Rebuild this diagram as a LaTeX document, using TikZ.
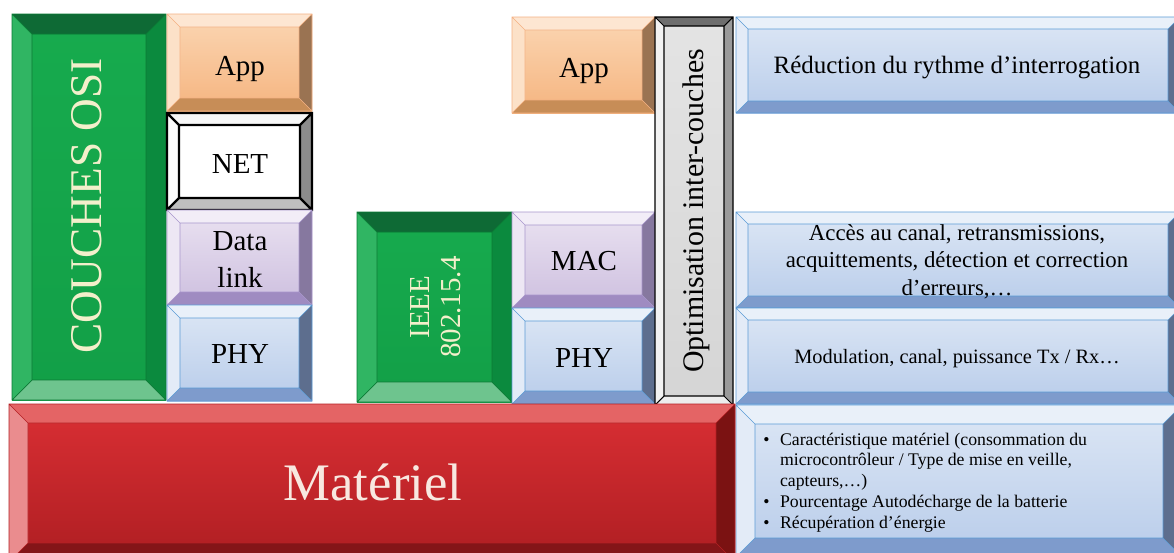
\documentclass[tikz,border=0pt]{standalone}
\usepackage{fontspec}
\setmainfont{Liberation Serif}

% green
\definecolor{grMa}{HTML}{17AB4E}\definecolor{grMb}{HTML}{129F47}
\definecolor{grT}{HTML}{0E6A35}\definecolor{grL}{HTML}{30B563}
\definecolor{grR}{HTML}{0B8A3E}\definecolor{grB}{HTML}{6EC48E}
\definecolor{grD}{HTML}{0B7A35}
% orange
\definecolor{orMa}{HTML}{FBD6B3}\definecolor{orMb}{HTML}{F5B47F}
\definecolor{orT}{HTML}{FDE6D2}\definecolor{orL}{HTML}{FCE1C8}
\definecolor{orR}{HTML}{9A7352}\definecolor{orB}{HTML}{C78D57}
\definecolor{orD}{HTML}{F4B183}
% purple
\definecolor{puMa}{HTML}{EAE2F1}\definecolor{puMb}{HTML}{CDBFDF}
\definecolor{puT}{HTML}{F2EDF7}\definecolor{puL}{HTML}{EDE7F4}
\definecolor{puR}{HTML}{86789F}\definecolor{puB}{HTML}{9F8BC1}
\definecolor{puD}{HTML}{A896CC}
% blue
\definecolor{blMa}{HTML}{DDE7F5}\definecolor{blMb}{HTML}{B8CCEA}
\definecolor{blT}{HTML}{E9F0F9}\definecolor{blL}{HTML}{E3EBF7}
\definecolor{blR}{HTML}{5D6E8E}\definecolor{blB}{HTML}{7E9BCC}
\definecolor{blD}{HTML}{5B9BD5}
% white (NET)
\definecolor{wtMa}{HTML}{FFFFFF}\definecolor{wtMb}{HTML}{FFFFFF}
\definecolor{wtT}{HTML}{F7F7F7}\definecolor{wtL}{HTML}{FBFBFB}
\definecolor{wtR}{HTML}{8C8C8C}\definecolor{wtB}{HTML}{BFBFBF}
% grey (optimisation)
\definecolor{gyMa}{HTML}{E4E4E4}\definecolor{gyMb}{HTML}{D5D5D5}
\definecolor{gyT}{HTML}{6E6E6E}\definecolor{gyL}{HTML}{F2F2F2}
\definecolor{gyR}{HTML}{9A9A9A}\definecolor{gyB}{HTML}{EDEDED}
% red
\definecolor{rdMa}{HTML}{DA2F34}\definecolor{rdMb}{HTML}{AE1E22}
\definecolor{rdT}{HTML}{E46465}\definecolor{rdL}{HTML}{EA8C8E}
\definecolor{rdR}{HTML}{7B1212}\definecolor{rdB}{HTML}{841518}
\definecolor{rdD}{HTML}{B42024}
% text
\definecolor{cream}{HTML}{F3EFCB}
\definecolor{pinkw}{HTML}{F8E8E0}

% bevelled box: x1, y1, x2, y2 (pixels, y down), bevel, colour prefix
\newcommand{\bevbox}[6]{%
  \shade[top color=#6Ma,bottom color=#6Mb] (#1,#2) rectangle (#3,#4);
  \fill[#6T] (#1,#2) -- (#3,#2) -- ({#3-#5},{#2+#5}) -- ({#1+#5},{#2+#5}) -- cycle;
  \fill[#6L] (#1,#2) -- ({#1+#5},{#2+#5}) -- ({#1+#5},{#4-#5}) -- (#1,#4) -- cycle;
  \fill[#6R] (#3,#2) -- (#3,#4) -- ({#3-#5},{#4-#5}) -- ({#3-#5},{#2+#5}) -- cycle;
  \fill[#6B] (#1,#4) -- (#3,#4) -- ({#3-#5},{#4-#5}) -- ({#1+#5},{#4-#5}) -- cycle;
  \draw[#6line] (#1,#2) rectangle (#3,#4) ({#1+#5},{#2+#5}) rectangle ({#3-#5},{#4-#5})
    (#1,#2) -- ({#1+#5},{#2+#5}) (#3,#2) -- ({#3-#5},{#2+#5})
    (#1,#4) -- ({#1+#5},{#4-#5}) (#3,#4) -- ({#3-#5},{#4-#5});
}

\begin{document}
\begin{tikzpicture}[x=0.02cm,y=-0.02cm,
    grline/.style={draw=grD,line width=0.4pt},
    orline/.style={draw=orD,line width=0.3pt},
    puline/.style={draw=puD,line width=0.3pt},
    blline/.style={draw=blD,line width=0.3pt},
    wtline/.style={draw=black,line width=1.3pt},
    gyline/.style={draw=black,line width=0.6pt},
    rdline/.style={draw=rdD,line width=0.3pt},
    every node/.style={inner sep=0pt,align=center},
    lay/.style={font=\fontsize{16.5}{21}\selectfont},
    desc/.style={font=\fontsize{14.2}{15.4}\selectfont}]
  \useasboundingbox (0,0) rectangle (1174,552);
  \fill[white] (0,0) rectangle (1174,552);
  \clip (0,0) rectangle (1174,552);

  % OSI stack
  \bevbox{12}{14}{166}{400}{20}{gr}
  \bevbox{167}{14}{312}{111}{13}{or}
  \bevbox{167}{113}{312}{210}{12}{wt}
  \bevbox{167}{210}{312}{305}{13}{pu}
  \bevbox{167}{305}{312}{401}{13}{bl}
  \node[rotate=90,text=cream,font=\fontsize{25.8}{28}\selectfont] (osi) at (87,206) {COUCHES OSI};
  \node[lay,anchor=base] (appA) at (240,75) {App};
  \node[lay,anchor=base] (net) at (240,173) {NET};
  \node[lay,anchor=base] (dlink) at (240,287) {Data\\link};
  \node[lay,anchor=base] (phyA) at (240,363) {PHY};

  % IEEE 802.15.4 stack
  \bevbox{357}{212}{512}{402}{20}{gr}
  \bevbox{512}{17}{655}{113}{13}{or}
  \bevbox{512}{212}{655}{308}{13}{pu}
  \bevbox{512}{308}{655}{404}{13}{bl}
  \node[rotate=90,text=cream,font=\fontsize{16.5}{17.6}\selectfont] (ieee) at (436,307) {IEEE\\802.15.4};
  \node[lay,anchor=base] (appB) at (584,77) {App};
  \node[lay,anchor=base] (mac) at (584,270) {MAC};
  \node[lay,anchor=base] (phyB) at (584,367) {PHY};

  % cross-layer bar
  \bevbox{655}{17}{733}{405}{9}{gy}
  \node[rotate=90,font=\fontsize{17}{19}\selectfont] (optim) at (696,211) {Optimisation inter-couches};

  % descriptions
  \bevbox{736}{17}{1180}{113}{12}{bl}
  \bevbox{736}{212}{1180}{308}{12}{bl}
  \bevbox{736}{308}{1180}{404}{12}{bl}
  \bevbox{736}{405}{1182}{557}{19}{bl}
  \node[desc,anchor=base] (reduc) at (957,73) {Réduction du rythme d’interrogation};
  \node[font=\fontsize{13}{15.4}\selectfont,anchor=base] (acces) at (957,295)
    {Accès au canal, retransmissions,\\acquittements, détection et correction\\d’erreurs,…};
  \node[font=\fontsize{11.6}{13}\selectfont,anchor=base] (modul) at (957,363)
    {Modulation, canal, puissance Tx / Rx…};
  \node[align=left,anchor=base west,font=\fontsize{10.1}{11.8}\selectfont] (caract) at (763,528)
    {\makebox[9.5pt][l]{\textbullet}Caractéristique matériel (consommation du\\
     \hspace*{9.5pt}microcontrôleur / Type de mise en veille,\\
     \hspace*{9.5pt}capteurs,…)\\
     \makebox[9.5pt][l]{\textbullet}Pourcentage Autodécharge de la batterie\\
     \makebox[9.5pt][l]{\textbullet}Récupération d’énergie};

  % hardware
  \bevbox{9}{404}{735}{562}{19}{rd}
  \node[text=pinkw,font=\fontsize{30}{32}\selectfont] (materiel) at (373,482) {Matériel};
\end{tikzpicture}
\end{document}
